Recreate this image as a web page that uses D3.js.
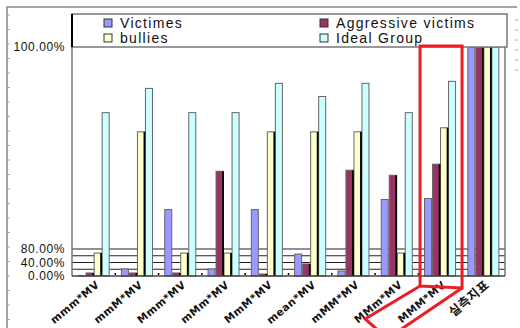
<!DOCTYPE html>
<html>
<head>
<meta charset="utf-8">
<script src="https://cdn.jsdelivr.net/npm/d3@7"></script>
<style>
  body { margin: 0; background: #fff; }
  text { font-family: "Liberation Sans", Arial, sans-serif; fill: #111; }
</style>
</head>
<body>
<svg id="chart" width="520" height="328"></svg>
<script>
// categories and series (values in %)
var categories = ["mmm*MV", "mmM*MV", "Mmm*MV", "mMm*MV", "MmM*MV", "mean*MV", "mMM*MV", "MMm*MV", "MMM*MV", "실측지표"]
var seriesNames = ["Victimes", "Aggressive victims", "bullies", "Ideal Group"]
var victimes   = [1, 21, 83.9, 21, 83.9, 65, 15, 84.9, 85, 100]
var aggressive = [9, 9, 9, 87.7, 6, 35.6, 87.8, 87.3, 88.4, 100]
var bullies    = [68, 91.6, 68, 68, 91.6, 91.6, 91.6, 68, 92, 100]
var ideal      = [93.5, 95.9, 93.5, 93.5, 96.4, 95.1, 96.4, 93.5, 96.6, 100]
var yTicks = [0, 20, 40, 60, 80, 100]
var yTickLabels = ["0.00%", "", "40.00%", "", "80.00%", "100.00%"]

var colors = ["#9999ff", "#993366", "#ffffcc", "#ccffff"]
var allSeries = [victimes, aggressive, bullies, ideal]

var dimensions = {
    width: 520,
    height: 328,
    plot: { left: 72, right: 505, top: 47, bottom: 276 }
}

var svg = d3.select("#chart")

// outer frame
svg.append("path")
    .attr("d", "M7,330 L7,7 L517,7")
    .attr("fill", "none")
    .attr("stroke", "#888")
    .attr("stroke-width", 1.5)

// little ticks on the outer frame
var frameTicks = d3.range(15, 328, 14.5)
svg.selectAll(".ftick")
    .data(frameTicks)
    .enter()
    .append("line")
    .attr("x1", 7).attr("x2", 10)
    .attr("y1", d => d).attr("y2", d => d)
    .attr("stroke", "#aaa")
svg.selectAll(".rtick")
    .data(d3.range(20, 80, 10))
    .enter()
    .append("line")
    .attr("x1", 515).attr("x2", 518)
    .attr("y1", d => d).attr("y2", d => d)
    .attr("stroke", "#aaa")

// scales
var xScale = d3.scaleBand()
    .domain(categories)
    .range([dimensions.plot.left, dimensions.plot.right])
    .paddingInner(0.26)
    .paddingOuter(0.13)

var xSub = d3.scaleBand()
    .domain(seriesNames)
    .range([0, xScale.bandwidth()])

// the y axis is compressed below 80%
var yScale = d3.scaleLinear()
    .domain([0, 80, 100])
    .range([dimensions.plot.bottom, 249, dimensions.plot.top])

// gridlines
svg.selectAll(".grid")
    .data(yTicks.filter(d => d > 0 && d < 100))
    .enter()
    .append("line")
    .attr("x1", dimensions.plot.left).attr("x2", dimensions.plot.right)
    .attr("y1", d => yScale(d)).attr("y2", d => yScale(d))
    .attr("stroke", "#222")
    .attr("stroke-width", 1.2)

// plot border
svg.append("path")
    .attr("d", "M" + dimensions.plot.left + "," + dimensions.plot.bottom + " L" + dimensions.plot.left + "," + dimensions.plot.top +
        " M" + dimensions.plot.right + "," + dimensions.plot.top + " L" + dimensions.plot.right + "," + dimensions.plot.bottom)
    .attr("stroke", "#777")
    .attr("stroke-width", 1.5)
    .attr("fill", "none")

// bars
var groups = svg.selectAll(".group")
    .data(categories)
    .enter()
    .append("g")
    .attr("transform", d => "translate(" + xScale(d) + ",0)")

groups.selectAll("rect")
    .data((d, i) => allSeries.map((s, j) => ({ name: seriesNames[j], value: s[i], color: colors[j] })))
    .enter()
    .append("rect")
    .attr("x", d => xSub(d.name) + 0.5)
    .attr("y", d => yScale(d.value))
    .attr("width", xSub.bandwidth() - 1)
    .attr("height", d => yScale(0) - yScale(d.value))
    .attr("fill", d => d.color)
    .attr("stroke", "#666")
    .attr("stroke-width", 1)

// dark right edge for the shaded bars
groups.selectAll(".edge")
    .data((d, i) => [{ name: "Aggressive victims", value: aggressive[i] }, { name: "bullies", value: bullies[i] }])
    .enter()
    .append("line")
    .attr("x1", d => xSub(d.name) + xSub.bandwidth() - 0.5)
    .attr("x2", d => xSub(d.name) + xSub.bandwidth() - 0.5)
    .attr("y1", d => yScale(d.value))
    .attr("y2", yScale(0))
    .attr("stroke", "#000")
    .attr("stroke-width", 1.8)

// x axis
svg.append("line")
    .attr("x1", dimensions.plot.left).attr("x2", dimensions.plot.right)
    .attr("y1", yScale(0)).attr("y2", yScale(0))
    .attr("stroke", "#444")
    .attr("stroke-width", 1.5)

svg.selectAll(".xtick")
    .data(categories.slice(1))
    .enter()
    .append("line")
    .attr("x1", d => xScale(d) - xScale.step() * xScale.paddingInner() / 2)
    .attr("x2", d => xScale(d) - xScale.step() * xScale.paddingInner() / 2)
    .attr("y1", yScale(0) - 3).attr("y2", yScale(0) - 1)
    .attr("stroke", "#000")
    .attr("stroke-width", 1.5)

svg.selectAll(".xlabel")
    .data(categories)
    .enter()
    .append("text")
    .attr("transform", d => "translate(" + (xScale(d) + xScale.bandwidth() / 2 + 4) + "," + (yScale(0) + 7) + ") rotate(-40)")
    .attr("text-anchor", "end")
    .style("font-size", d => d === "실측지표" ? "12.5px" : "10.5px")
    .style("font-weight", "bold")
    .style("font-family", d => d === "실측지표" ? "'Noto Sans CJK KR', sans-serif" : "'DejaVu Sans', sans-serif")
    .style("letter-spacing", "0.5px")
    .attr("dy", "0.35em")
    .text(d => d)

// y labels
svg.selectAll(".ylabel")
    .data(yTicks)
    .enter()
    .append("text")
    .attr("x", 65)
    .attr("y", d => yScale(d))
    .attr("dy", "0.35em")
    .attr("text-anchor", "end")
    .style("font-size", "12px")
    .style("letter-spacing", "0.6px")
    .text((d, i) => yTickLabels[i])

// legend
svg.append("rect")
    .attr("x", 72).attr("y", 14)
    .attr("width", 435).attr("height", 33)
    .attr("fill", "#fff")
    .attr("stroke", "#777")
    .attr("stroke-width", 1.5)
svg.append("line")
    .attr("x1", 72).attr("x2", 72).attr("y1", 14).attr("y2", 47)
    .attr("stroke", "#000").attr("stroke-width", 2)

var legendPos = [[104, 23], [320, 23], [104, 38], [320, 38]]
var legend = svg.selectAll(".legend")
    .data(seriesNames)
    .enter()
    .append("g")
    .attr("transform", (d, i) => "translate(" + legendPos[i][0] + "," + legendPos[i][1] + ")")
legend.append("rect")
    .attr("x", 0).attr("y", -4)
    .attr("width", 8).attr("height", 8)
    .attr("fill", (d, i) => colors[i])
    .attr("stroke", "#333")
legend.append("text")
    .attr("x", 16)
    .attr("dy", "0.36em")
    .style("font-size", "14px")
    .style("letter-spacing", "1.3px")
    .text(d => d)

// red highlight around MMM*MV
var cx = xScale("MMM*MV") + xScale.bandwidth() / 2
var base = yScale(0)
svg.append("path")
    .attr("d", "M" + (cx - 20) + "," + (yScale(100) - 1) + " L" + (cx + 22) + "," + (yScale(100) - 1) +
        " L" + (cx + 22) + "," + (base + 12) + " L" + (cx - 20) + "," + (base + 10) + " Z")
    .attr("fill", "none")
    .attr("stroke", "#ee1c24")
    .attr("stroke-width", 3)
svg.append("path")
    .attr("d", "M" + (cx - 20) + "," + (base + 10) + " L" + (cx - 75) + "," + (base + 43) +
        " L" + (cx - 53) + "," + (base + 62) + " M" + (cx + 22) + "," + (base + 12) + " L" + (cx - 40) + "," + (base + 54))
    .attr("fill", "none")
    .attr("stroke", "#ee1c24")
    .attr("stroke-width", 3)
</script>
</body>
</html>
